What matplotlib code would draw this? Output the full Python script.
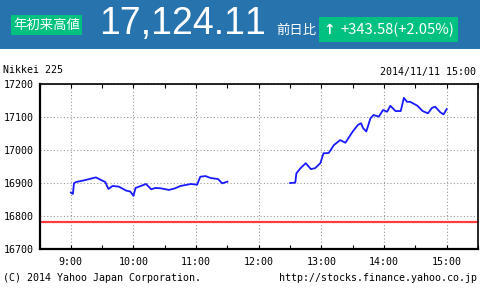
import matplotlib
matplotlib.use("Agg")
import matplotlib.pyplot as plt
from matplotlib.patches import Rectangle

plt.rcParams["text.kerning_factor"] = 6

# intraday Nikkei 225, 2014/11/11 (minutes after 9:00, price)
am_time = ["9:00", "9:02", "9:03", "9:05", "9:14", "9:24", "9:29", "9:33", "9:36", "9:40",
           "9:46", "9:53", "9:57", "10:00", "10:02", "10:07", "10:12", "10:17", "10:21",
           "10:26", "10:34", "10:40", "10:45", "10:55", "11:01", "11:04", "11:09", "11:14",
           "11:21", "11:25", "11:30"]
am_price = [16871, 16867, 16899, 16903, 16909, 16917, 16909, 16903, 16882, 16891,
            16889, 16877, 16874, 16861, 16885, 16891, 16897, 16881, 16885,
            16884, 16879, 16884, 16891, 16897, 16895, 16919, 16921, 16915,
            16912, 16899, 16904]
pm_time = ["12:30", "12:35", "12:36", "12:40", "12:45", "12:50", "12:54", "12:59", "13:02",
           "13:07", "13:12", "13:18", "13:23", "13:30", "13:35", "13:38", "13:40", "13:43",
           "13:47", "13:50", "13:55", "13:59", "14:03", "14:06", "14:11", "14:16", "14:19",
           "14:22", "14:25", "14:28", "14:32", "14:37", "14:42", "14:46", "14:49", "14:54",
           "14:57", "15:00"]
pm_price = [16900, 16901, 16929, 16945, 16960, 16942, 16945, 16960, 16990,
            16991, 17015, 17030, 17022, 17056, 17076, 17081, 17066, 17056,
            17096, 17106, 17101, 17121, 17116, 17134, 17118, 17118, 17158,
            17146, 17146, 17141, 17134, 17118, 17111, 17128, 17131, 17114,
            17108, 17124]
prev_close = 16780.53
hour_labels = ["9:00", "10:00", "11:00", "12:00", "13:00", "14:00", "15:00"]
y_ticks = [16700, 16800, 16900, 17000, 17100, 17200]


def to_min(s):
    h, m = s.split(":")
    return (int(h) - 9) * 60 + int(m)


W, H = 480, 290
fig = plt.figure(figsize=(4.8, 2.9), dpi=100)
fig.patch.set_facecolor("white")


def fx(x):
    return x / W


def fy(y):
    return 1 - y / H


# header band
fig.patches.append(Rectangle((0, fy(49)), 1, 49 / H, transform=fig.transFigure,
                             facecolor="#2673ad", edgecolor="none"))
fig.patches.append(Rectangle((fx(11), fy(35)), 71 / W, 20 / H, transform=fig.transFigure,
                             facecolor="#00c17f", edgecolor="none"))
fig.patches.append(Rectangle((fx(319), fy(42)), 139 / W, 25 / H, transform=fig.transFigure,
                             facecolor="#00c17f", edgecolor="none"))
cjk = ["Noto Sans CJK JP", "DejaVu Sans"]
fig.text(fx(46.5), fy(25), "年初来高値", color="white", fontsize=9.6, family=cjk,
         ha="center", va="center")
fig.text(fx(99), fy(24), "17,124.11", color="white", fontsize=27,
         family="Liberation Sans", ha="left", va="center")
fig.text(fx(276), fy(30), "前日比", color="white", fontsize=9.6, family=cjk,
         ha="left", va="center")
fig.text(fx(329), fy(29.5), "\u2191", color="white", fontsize=10, fontweight="bold",
         family="DejaVu Sans", ha="center", va="center")
fig.text(fx(340), fy(29.5), "+343.58(+2.05%)", color="white", fontsize=10.6, family=cjk,
         ha="left", va="center")

mono = "DejaVu Sans Mono"
fig.text(fx(3), fy(70), "Nikkei 225", fontsize=7.2, family=mono, va="center")
fig.text(fx(476), fy(72), "2014/11/11 15:00", fontsize=7.2, family=mono,
         ha="right", va="center")
fig.text(fx(3), fy(278), "(C) 2014 Yahoo Japan Corporation.", fontsize=7.2,
         family=mono, va="center")
fig.text(fx(477), fy(278), "http://stocks.finance.yahoo.co.jp", fontsize=7.2,
         family=mono, ha="right", va="center")

ax = fig.add_axes([fx(39.5), fy(249), (478 - 39.5) / W, (249 - 84) / H])
ax.plot([to_min(t) for t in am_time], am_price, color="#1a1aff", lw=1.3)
ax.plot([to_min(t) for t in pm_time], pm_price, color="#1a1aff", lw=1.3)
ax.axhline(prev_close, color="#ff3a3a", lw=1.6)

ax.set_xlim(-30, 390)
ax.set_ylim(16700, 17200)
ax.set_xticks([to_min(t) for t in hour_labels])
ax.set_xticklabels(hour_labels)
ax.set_xticks(range(-30, 391, 30), minor=True)
ax.set_yticks(y_ticks)
ax.grid(True, which="major", color="#999999", linestyle=(0, (1, 2)), lw=0.8)
ax.tick_params(which="both", direction="in", top=True, length=3, width=0.8,
               labelsize=7.2, pad=6)
ax.tick_params(axis="y", length=0, pad=4)
for lab in ax.get_xticklabels() + ax.get_yticklabels():
    lab.set_family(mono)
for s in ax.spines.values():
    s.set_linewidth(1.2)
ax.spines["left"].set_linewidth(1.6)
ax.spines["bottom"].set_linewidth(1.6)

fig.savefig("out.png", dpi=100)
